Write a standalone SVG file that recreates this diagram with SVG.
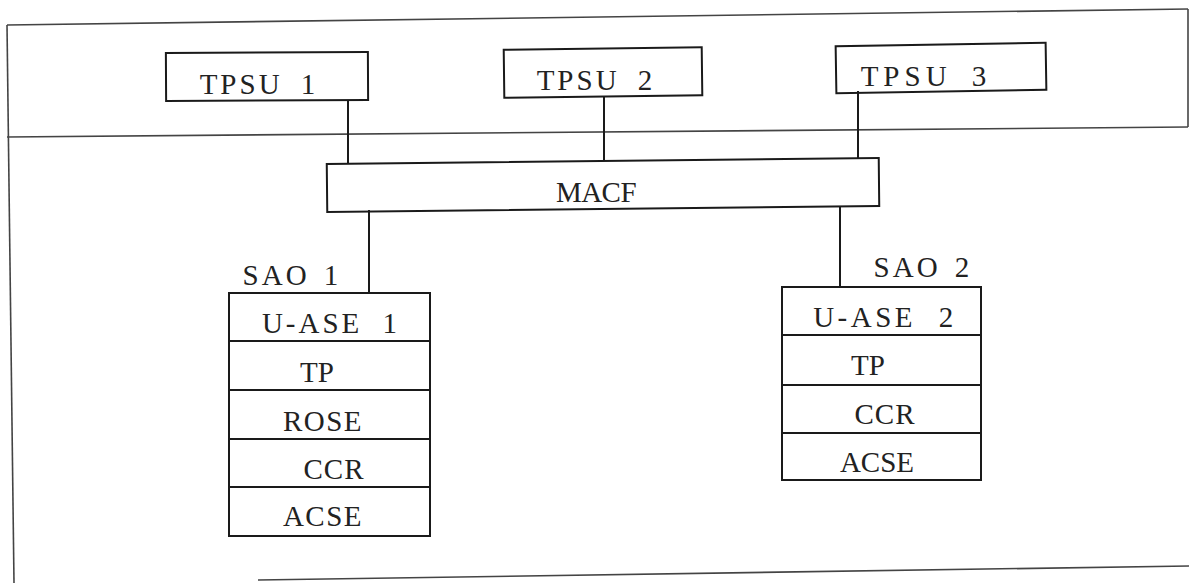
<svg xmlns="http://www.w3.org/2000/svg" width="1189" height="583" viewBox="0 0 1189 583">
<style>
.frame{fill:none;stroke:#444;stroke-width:1.6}
.box{fill:none;stroke:#1a1a1a;stroke-width:2}
.conn{fill:none;stroke:#1a1a1a;stroke-width:2}
text{font-family:"Liberation Serif","Times New Roman",serif;font-size:29px;fill:#222;text-anchor:middle}
.w{letter-spacing:3px;word-spacing:8px}
</style>
<rect width="1189" height="583" fill="#fff"/>
<g id="frame">
<line class="frame" x1="7" y1="25" x2="1188" y2="9"/>
<line class="frame" x1="7" y1="25" x2="14" y2="583"/>
<line class="frame" x1="1188" y1="9" x2="1188" y2="127"/>
<line class="frame" x1="7" y1="137" x2="1188" y2="127"/>
<line class="frame" x1="258" y1="580" x2="1189" y2="566"/>
</g>
<g id="connectors">
<line class="conn" x1="348" y1="101" x2="348" y2="163"/>
<line class="conn" x1="604" y1="97" x2="604" y2="160"/>
<line class="conn" x1="858" y1="91" x2="858" y2="158"/>
<line class="conn" x1="369" y1="210" x2="369" y2="293"/>
<line class="conn" x1="840" y1="207" x2="840" y2="287"/>
</g>
<g id="tpsu1">
<rect class="box" x="166" y="52.5" width="202" height="48" transform="rotate(-0.3 267 76)"/>
<text class="w" x="259" y="94">TPSU 1</text>
</g>
<g id="tpsu2">
<rect class="box" x="504" y="48.5" width="198" height="48" transform="rotate(-0.7 603 72)"/>
<text class="w" x="596" y="90">TPSU 2</text>
</g>
<g id="tpsu3">
<rect class="box" x="836" y="44.5" width="210" height="47" transform="rotate(-0.9 941 68)"/>
<text x="926" y="86" style="letter-spacing:5px;word-spacing:8px">TPSU 3</text>
</g>
<g id="macf">
<rect class="box" x="327" y="161" width="552" height="48" transform="rotate(-0.6 603 185)"/>
<text x="596" y="202" style="letter-spacing:-0.5px">MACF</text>
</g>
<g id="sao1">
<text x="292" y="285" style="letter-spacing:3px;word-spacing:4px">SAO 1</text>
<rect class="box" x="229" y="293" width="201" height="243"/>
<line class="box" x1="229" y1="341" x2="430" y2="341"/>
<line class="box" x1="229" y1="390" x2="430" y2="390"/>
<line class="box" x1="229" y1="439" x2="430" y2="439"/>
<line class="box" x1="229" y1="487" x2="430" y2="487"/>
<text x="331" y="333" style="letter-spacing:3px;word-spacing:10px">U-ASE 1</text>
<text x="317" y="382">TP</text>
<text x="323" y="431" style="letter-spacing:1.5px">ROSE</text>
<text x="334" y="479" style="letter-spacing:1px">CCR</text>
<text x="323" y="526" style="letter-spacing:1.5px">ACSE</text>
</g>
<g id="sao2">
<text x="923" y="277" style="letter-spacing:3px;word-spacing:4px">SAO 2</text>
<rect class="box" x="782" y="287" width="199" height="193"/>
<line class="box" x1="782" y1="335" x2="981" y2="335"/>
<line class="box" x1="782" y1="385" x2="981" y2="385"/>
<line class="box" x1="782" y1="433" x2="981" y2="433"/>
<text x="885" y="327" style="letter-spacing:3.5px;word-spacing:12px">U-ASE 2</text>
<text x="868" y="375">TP</text>
<text x="885" y="424" style="letter-spacing:1px">CCR</text>
<text x="877" y="472">ACSE</text>
</g>
</svg>
